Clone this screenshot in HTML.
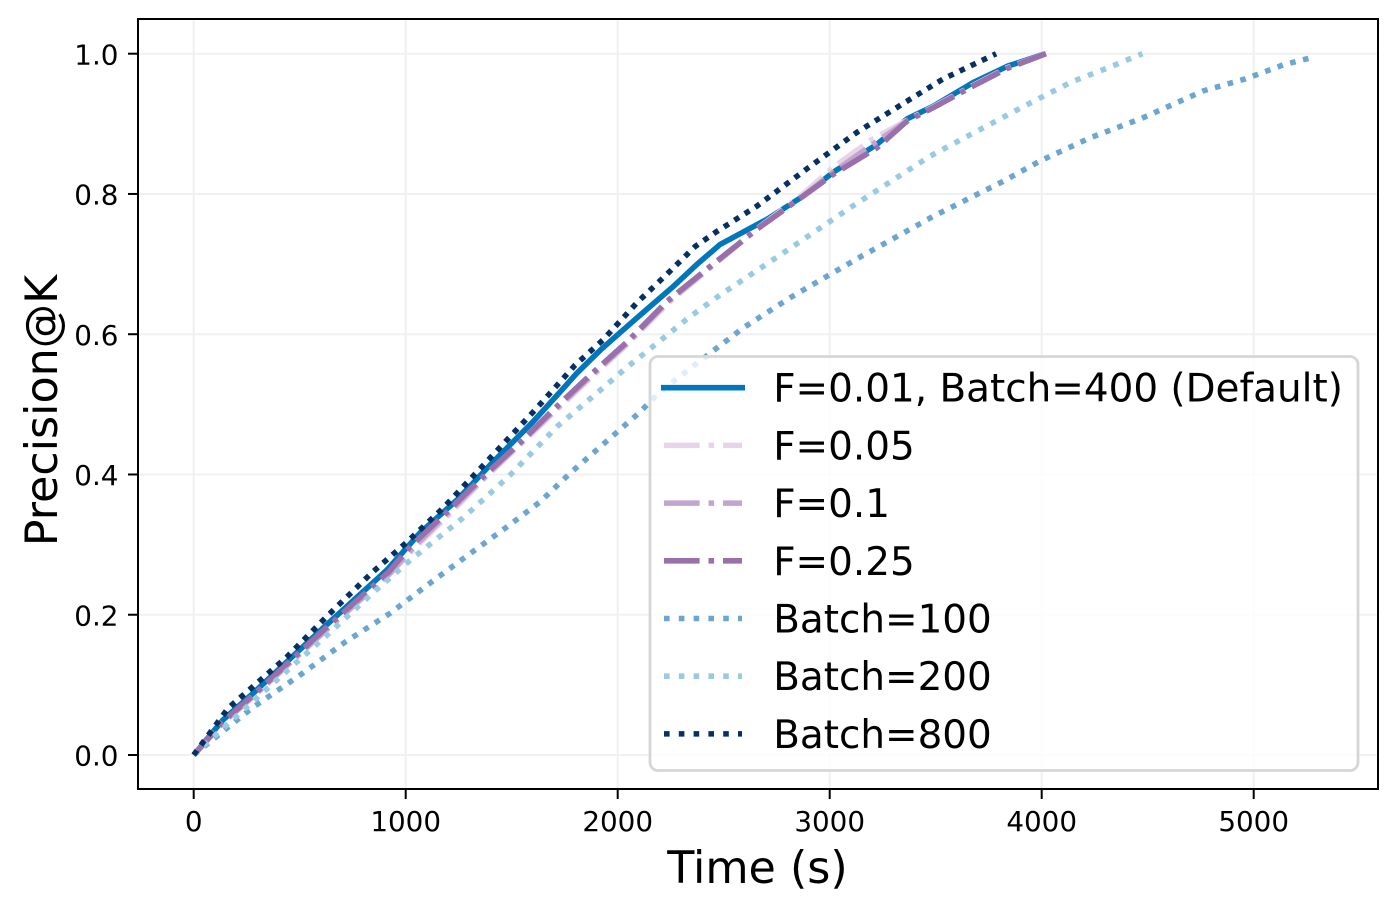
<!DOCTYPE html>
<html lang="en">
<head>
<meta charset="utf-8">
<title>Precision@K over Time</title>
<style>
html,body{margin:0;padding:0;background:#fff;}
svg{display:block;font-family:"DejaVu Sans","Liberation Sans",sans-serif;}
</style>
</head>
<body>
<svg id="chart" xmlns="http://www.w3.org/2000/svg" width="1397" height="911" viewBox="0 0 1397 911">
  <rect x="0" y="0" width="1397" height="911" fill="#ffffff"/>
  <defs><clipPath id="plot-clip"><rect x="138" y="19" width="1240" height="770"/></clipPath></defs>
  <g id="grid"></g>
  <g id="series" clip-path="url(#plot-clip)"></g>
  <g id="ticks"></g>
  <rect x="138" y="19" width="1240" height="770" fill="none" stroke="#000" stroke-width="2"/>
  <text x="757.5" y="883" font-size="44.4" text-anchor="middle" fill="#000">Time (s)</text>
  <text x="0" y="0" transform="translate(57,410.5) rotate(-90)" font-size="44.4" text-anchor="middle" fill="#000">Precision@K</text>
  <g id="legend">
    <rect x="650" y="356.5" width="708" height="414" rx="8" ry="8" fill="#ffffff" fill-opacity="0.8" stroke="#d6d6d6" stroke-width="2.8"/>
  </g>
</svg>
<script>
var xTicks = [0, 1000, 2000, 3000, 4000, 5000];
var yTicks = [0.0, 0.2, 0.4, 0.6, 0.8, 1.0];
var yTickLabels = ['0.0', '0.2', '0.4', '0.6', '0.8', '1.0'];

var seriesLabels = ['F=0.01, Batch=400 (Default)', 'F=0.05', 'F=0.1', 'F=0.25', 'Batch=100', 'Batch=200', 'Batch=800'];

var defaultTime = [0, 138, 280, 610, 912, 1067, 1242, 1398, 1600, 1728, 1808, 1917, 1978, 2120, 2262, 2375, 2483, 2705, 2875, 3017, 3224, 3365, 3488, 3677, 3837, 4017];
var defaultPrecision = [0, 0.05, 0.088, 0.181, 0.264, 0.3166, 0.3636, 0.4135, 0.475, 0.5176, 0.5447, 0.577, 0.5935, 0.631, 0.668, 0.70, 0.728, 0.764, 0.797, 0.831, 0.871, 0.907, 0.925, 0.959, 0.982, 1.0];

var f05Time = [0, 140, 285, 615, 925, 1035, 1205, 1390, 1545, 1705, 1870, 2050, 2240, 2450, 2660, 2875, 3017, 3200, 3365, 3488, 3677, 3837, 4020];
var f05Precision = [0, 0.046, 0.084, 0.175, 0.258, 0.293, 0.343, 0.400, 0.444, 0.490, 0.537, 0.587, 0.645, 0.698, 0.751, 0.800, 0.838, 0.878, 0.905, 0.924, 0.955, 0.980, 1.0];

var f1Time = [0, 140, 285, 615, 925, 1030, 1200, 1388, 1542, 1700, 1865, 2047, 2235, 2450, 2658, 2875, 3017, 3200, 3365, 3488, 3677, 3837, 4020];
var f1Precision = [0, 0.047, 0.085, 0.176, 0.259, 0.294, 0.345, 0.401, 0.445, 0.491, 0.538, 0.588, 0.646, 0.699, 0.750, 0.797, 0.831, 0.870, 0.904, 0.923, 0.954, 0.979, 1.0];

var f25Time = [0, 140, 283, 612, 920, 1020, 1195, 1383, 1539, 1695, 1860, 2044, 2233, 2450, 2658, 2875, 3017, 3224, 3365, 3488, 3677, 3837, 4020];
var f25Precision = [0, 0.048, 0.086, 0.178, 0.261, 0.2966, 0.3465, 0.402, 0.445, 0.492, 0.539, 0.589, 0.647, 0.70, 0.75, 0.797, 0.828, 0.866, 0.904, 0.923, 0.954, 0.979, 1.0];

var batch100Time = [0, 275, 516, 714, 926, 1083, 1280, 1483, 1634, 1776, 1965, 2105, 2200, 2294, 2445, 2592, 2813, 3143, 3488, 3818, 3992, 4228, 4473, 4762, 4960, 5139, 5292];
var batch100Precision = [0, 0.067, 0.117, 0.161, 0.202, 0.238, 0.282, 0.3265, 0.361, 0.402, 0.452, 0.489, 0.518, 0.540, 0.575, 0.609, 0.652, 0.71, 0.768, 0.818, 0.847, 0.88, 0.908, 0.947, 0.964, 0.984, 0.996];

var batch200Time = [0, 138, 407, 629, 848, 1034, 1270, 1492, 1713, 1902, 2044, 2185, 2332, 2483, 2752, 3110, 3474, 3866, 3973, 4143, 4322, 4475];
var batch200Precision = [0, 0.038, 0.111, 0.171, 0.232, 0.281, 0.338, 0.399, 0.468, 0.516, 0.553, 0.587, 0.623, 0.656, 0.71, 0.783, 0.854, 0.917, 0.934, 0.96, 0.981, 1.0];

var batch800Time = [0, 163, 243, 440, 629, 841, 1006, 1176, 1412, 1610, 1799, 1931, 2091, 2247, 2365, 2460, 2658, 2893, 3129, 3379, 3535, 3785];
var batch800Precision = [0, 0.067, 0.088, 0.14, 0.198, 0.26, 0.3037, 0.352, 0.428, 0.492, 0.556, 0.592, 0.645, 0.69, 0.725, 0.745, 0.783, 0.836, 0.888, 0.935, 0.964, 1.0];

var NS = 'http://www.w3.org/2000/svg';
function xScale(t) { return 193.7 + t * 0.212; }
function yScale(p) { return 755 - p * 701.3; }

function mk(tag, attrs, parent, text) {
  var el = document.createElementNS(NS, tag);
  for (var k in attrs) { el.setAttribute(k, attrs[k]); }
  if (text !== undefined) { el.textContent = text; }
  parent.appendChild(el);
  return el;
}

var gridG = document.getElementById('grid');
var ticksG = document.getElementById('ticks');
var seriesG = document.getElementById('series');
var legendG = document.getElementById('legend');

xTicks.forEach(function (t) {
  var x = xScale(t);
  var gl = mk('line', {x1: x, x2: x, y1: 19, y2: 789, stroke: '#f0f0f0', 'stroke-width': 2}, gridG);
  
  
  var tm = mk('line', {x1: x, x2: x, y1: 789, y2: 799, stroke: '#000', 'stroke-width': 2}, ticksG);
  
  
  var tl = mk('text', {x: x, y: 831, 'font-size': 27.8, 'text-anchor': 'middle', fill: '#000'}, ticksG, String(t));
  
  
});

yTicks.forEach(function (p, i) {
  var y = yScale(p);
  var gl = mk('line', {x1: 138, x2: 1378, y1: y, y2: y, stroke: '#f0f0f0', 'stroke-width': 2}, gridG);
  
  
  var tm = mk('line', {x1: 128, x2: 138, y1: y, y2: y, stroke: '#000', 'stroke-width': 2}, ticksG);
  
  
  var tl = mk('text', {x: 118.5, y: y + 10.6, 'font-size': 27.8, 'text-anchor': 'end', fill: '#000'}, ticksG, yTickLabels[i]);
  
  
});

var LEGEND_DASHDOT = '35.6 8.9 5.6 8.9';
var LEGEND_DOTTED = '5.6 9.2';
var PLOT_DASHDOT = '31 7.8 4.9 7.8';

function drawSeries(times, values, color, dash, name) {
  var d = times.map(function (t, i) {
    return (i ? 'L' : 'M') + xScale(t).toFixed(2) + ' ' + yScale(values[i]).toFixed(2);
  }).join(' ');
  var attrs = {d: d, fill: 'none', stroke: color, 'stroke-width': 5.55, 'stroke-linejoin': 'round'};
  if (dash) { attrs['stroke-dasharray'] = dash; }
  var path = mk('path', attrs, seriesG);
  
  
}

drawSeries(defaultTime, defaultPrecision, '#0077bb', null, 'series-default');
drawSeries(f05Time, f05Precision, '#e7d4e8', PLOT_DASHDOT, 'series-f-0-05');
drawSeries(f1Time, f1Precision, '#c2a5cf', PLOT_DASHDOT, 'series-f-0-1');
drawSeries(f25Time, f25Precision, '#9970ab', PLOT_DASHDOT, 'series-f-0-25');
drawSeries(batch100Time, batch100Precision, '#6ba6d0', '5.6 7.6', 'series-batch-100');
drawSeries(batch200Time, batch200Precision, '#98cae3', '5.6 8', 'series-batch-200');
drawSeries(batch800Time, batch800Precision, '#053061', '5.6 6.7', 'series-batch-800');

var legendColors = ['#0077bb', '#e7d4e8', '#c2a5cf', '#9970ab', '#6ba6d0', '#98cae3', '#053061'];
var legendDashes = [null, LEGEND_DASHDOT, LEGEND_DASHDOT, LEGEND_DASHDOT, LEGEND_DOTTED, LEGEND_DOTTED, LEGEND_DOTTED];

seriesLabels.forEach(function (label, i) {
  var y = 387.7 + i * 57.7;
  var x1 = legendDashes[i] ? 664 : 661;
  var x2 = legendDashes[i] ? 742 : 745;
  var attrs = {x1: x1, x2: x2, y1: y, y2: y, stroke: legendColors[i], 'stroke-width': 5.55};
  if (legendDashes[i]) { attrs['stroke-dasharray'] = legendDashes[i]; }
  var ln = mk('line', attrs, legendG);
  
  
  var tx = mk('text', {x: 773.2, y: y + 14, 'font-size': 38.9, fill: '#000'}, legendG, label);
  
  
});
</script>
</body>
</html>
